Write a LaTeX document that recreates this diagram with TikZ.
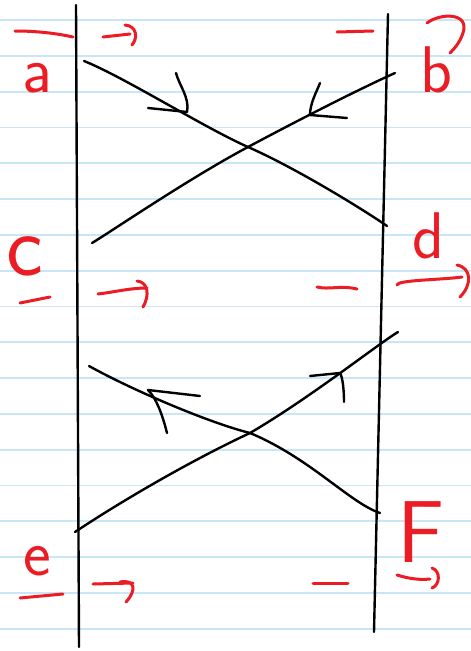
\documentclass[tikz,border=0pt]{standalone}
\usetikzlibrary{positioning}
\definecolor{inkred}{RGB}{236,28,36}
\definecolor{ruleblue}{RGB}{200,230,247}
\tikzset{
  pen/.style={black, line width=2.4pt, line cap=round, line join=round},
  ink/.style={inkred, line width=3pt, line cap=round, line join=round},
  ruling/.style={ruleblue, line width=1.8pt},
  letter/.style={inkred, inner sep=0pt, font=\sffamily\fontsize{66}{66}\selectfont},
  bigletter/.style={letter, font=\sffamily\fontsize{88}{88}\selectfont}
}
\begin{document}
\begin{tikzpicture}[x=1pt, y=-1pt]
\useasboundingbox[fill=white] (0,0) rectangle (471,651);
% ruled paper
\foreach \k in {0,...,17}
  \draw[ruling] (0,20+35.8*\k) -- (471,20+35.8*\k);
% the two posts
\coordinate (lt) at (76,5);   \coordinate (lb) at (79,647);
\coordinate (rt) at (388,14); \coordinate (rb) at (374,632);
\draw[pen] (lt) -- (lb);
\draw[pen] (rt) -- (rb);
% upper crossing
\coordinate (xup) at (248,147);
\coordinate (a1) at (84,61);   \coordinate (d1) at (387,226);
\coordinate (b1) at (395,73);  \coordinate (c1) at (92,243);
\draw[pen] (a1) .. controls +(40,16) and +(-45,-20) .. (xup)
  .. controls +(50,22) and +(-20,-14) .. (d1);
\draw[pen] (b1) .. controls +(-40,18) and +(45,-24) .. (xup)
  .. controls +(-60,32) and +(20,-12) .. (c1);
\coordinate (h1) at (187,112);
\draw[pen] (h1) .. controls +(3,-14) and +(3,12) .. +(-11,-39);
\draw[pen] (h1) -- +(-39,-4);
\coordinate (h2) at (310,115);
\draw[pen] (h2) .. controls +(0,-12) and +(-3,8) .. +(10,-32);
\draw[pen] (h2) -- +(37,3);
% lower crossing
\coordinate (xlo) at (250,433);
\coordinate (c2) at (89,366);  \coordinate (f2) at (380,513);
\coordinate (e2) at (75,532);  \coordinate (d2) at (398,332);
\draw[pen] (c2) .. controls +(45,25) and +(-40,-10) .. (xlo)
  .. controls +(60,25) and +(-30,-10) .. (f2);
\draw[pen] (e2) .. controls +(45,-30) and +(-60,28) .. (xlo)
  .. controls +(60,-35) and +(-20,12) .. (d2);
\coordinate (h3) at (148,390);
\draw[pen] (h3) -- +(52,6);
\draw[pen] (h3) .. controls +(10,10) and +(-3,-12) .. +(19,43);
\coordinate (h4) at (340,373);
\draw[pen] (h4) -- +(-30,3);
\draw[pen] (h4) .. controls +(3,5) and +(0,-10) .. +(4,29);
% red notes, top
\node[letter] (la) at (37,78) {a};
\node[letter] (lbb) at (436,70) {b};
\draw[ink] (15,31) .. controls (35,31) and (55,33) .. (73,37);
\draw[ink] (103,37) -- (130,34);
\draw[ink] (125,25) .. controls (137,26) and (138,38) .. (132,45);
\draw[ink] (337,32) -- (373,31);
\draw[ink] (427,23) .. controls (440,13) and (470,12) .. (463,33) .. controls (460,42) and (455,48) .. (450,53);
% red notes, middle
\node[bigletter] (lc) at (25,256) {c};
\node[letter] (ld) at (428,236) {d};
\draw[ink] (20,303) -- (50,297);
\draw[ink] (98,294) .. controls (115,292) and (130,288) .. (147,288);
\draw[ink] (137,281) .. controls (148,282) and (150,295) .. (143,307);
\draw[ink] (317,287) .. controls (330,290) and (340,285) .. (357,289);
\draw[ink] (397,285) .. controls (397,280) and (440,280) .. (462,277);
\draw[ink] (457,265) .. controls (472,268) and (472,285) .. (460,297);
% red notes, bottom
\node[letter] (le) at (37,561) {e};
\node[bigletter] (lf) at (421,532) {F};
\draw[ink] (20,598) -- (63,594);
\draw[ink] (93,584) -- (133,583);
\draw[ink] (120,582) .. controls (135,579) and (137,590) .. (126,602);
\draw[ink] (313,583) -- (348,583);
\draw[ink] (397,575) .. controls (410,579) and (420,580) .. (430,579);
\draw[ink] (432,568) .. controls (441,571) and (440,585) .. (432,588);
\end{tikzpicture}
\end{document}
